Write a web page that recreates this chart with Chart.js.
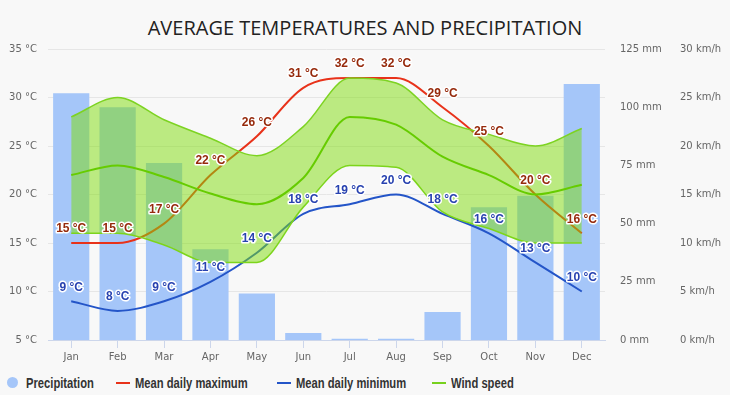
<!DOCTYPE html>
<html>
<head>
<meta charset="utf-8">
<script src="https://cdn.jsdelivr.net/npm/chart.js@4.4.1/dist/chart.umd.min.js"></script>
<style>
    body { margin: 0; background: #f8f8f8; }
    #wrap { position: relative; width: 730px; height: 395px; overflow: hidden; }
    #title {
        position: absolute; top: 14px; left: 0; width: 730px; text-align: center;
        font-family: 'Open Sans', sans-serif; font-size: 20px; color: #222;
    }
    #chartBox { position: absolute; top: 0; left: 0; width: 730px; height: 368px; }
    .lg {
        position: absolute; top: 374px; height: 18px; line-height: 18px;
        font-family: 'Liberation Sans', sans-serif;
        font-weight: bold; font-size: 14px; color: #333; white-space: nowrap;
        transform: scaleX(0.8); transform-origin: left center;
    }
    .sym { position: absolute; }
</style>
</head>
<body>
<div id="wrap">
    <div id="title">AVERAGE TEMPERATURES AND PRECIPITATION</div>
    <div id="chartBox"><canvas id="climateChart"></canvas></div>
    <div class="sym" style="left:7px;top:377px;width:11px;height:11px;border-radius:50%;background:#a5c6f9"></div>
    <div class="lg" style="left:26px">Precipitation</div>
    <div class="sym" style="left:116px;top:382px;width:14px;height:2px;background:#e8321a"></div>
    <div class="lg" style="left:135px">Mean daily maximum</div>
    <div class="sym" style="left:277px;top:382px;width:14px;height:2px;background:#2455c8"></div>
    <div class="lg" style="left:296px">Mean daily minimum</div>
    <div class="sym" style="left:432px;top:382px;width:14px;height:2px;background:#77d11e"></div>
    <div class="lg" style="left:451px">Wind speed</div>
</div>
<script>
const months = ['Jan', 'Feb', 'Mar', 'Apr', 'May', 'Jun', 'Jul', 'Aug', 'Sep', 'Oct', 'Nov', 'Dec'];

// precipitation in mm
const precipitation = [106, 100, 76, 39, 20, 3, 0.5, 0.5, 12, 57, 62, 110];

// temperatures in °C
const tempMax = [15, 15, 17, 22, 26, 31, 32, 32, 29, 25, 20, 16];
const tempMin = [9, 8, 9, 11, 14, 18, 19, 20, 18, 16, 13, 10];

// wind speed in km/h
const windHigh = [23, 25, 22.7, 20.8, 19, 22, 27, 26.5, 22.7, 21.2, 20, 21.8];
const windMean = [17, 18, 16.8, 15.1, 14, 16.7, 23, 22.2, 18.9, 17, 15, 16];
const windLow = [11, 11, 9.8, 8, 8, 13.7, 18, 17.8, 13.2, 11.5, 10, 10];

// axis ticks
const tempTicks = [5, 10, 15, 20, 25, 30, 35];
const mmTicks = [0, 25, 50, 75, 100, 125];
const kmhTicks = [0, 5, 10, 15, 20, 25, 30];

const axisFont = { family: 'DejaVu Sans', size: 10 };

// value labels with white halo on the temperature lines
const tempLabels = {
    id: 'tempLabels',
    afterDatasetsDraw(chart) {
        const ctx = chart.ctx;
        const cfg = [
            { index: 1, color: '#962a0c' },
            { index: 2, color: '#2842b0' }
        ];
        ctx.save();
        ctx.font = 'bold 12px "Liberation Sans", sans-serif';
        ctx.textAlign = 'center';
        ctx.textBaseline = 'middle';
        ctx.lineJoin = 'round';
        cfg.forEach(c => {
            const meta = chart.getDatasetMeta(c.index);
            const values = chart.data.datasets[c.index].data;
            meta.data.forEach((pt, i) => {
                const text = values[i] + ' °C';
                ctx.lineWidth = 3;
                ctx.strokeStyle = '#ffffff';
                ctx.strokeText(text, pt.x, pt.y - 14);
                ctx.fillStyle = c.color;
                ctx.fillText(text, pt.x, pt.y - 14);
            });
        });
        ctx.restore();
    }
};

const lineBase = {
    type: 'line',
    pointRadius: 0,
    pointHoverRadius: 0,
    cubicInterpolationMode: 'monotone',
    fill: false
};

new Chart(document.getElementById('climateChart'), {
    type: 'bar',
    data: {
        labels: months,
        datasets: [
            {
                label: 'Precipitation',
                data: precipitation,
                yAxisID: 'yP',
                backgroundColor: '#a5c6f9',
                barPercentage: 0.78,
                categoryPercentage: 1,
                order: 10
            },
            {
                ...lineBase,
                label: 'Mean daily maximum',
                data: tempMax,
                yAxisID: 'yT',
                borderColor: '#e8321a',
                borderWidth: 2,
                order: 5
            },
            {
                ...lineBase,
                label: 'Mean daily minimum',
                data: tempMin,
                yAxisID: 'yT',
                borderColor: '#2455c8',
                borderWidth: 2,
                order: 5
            },
            {
                ...lineBase,
                label: 'Wind high',
                data: windHigh,
                yAxisID: 'yW',
                borderColor: '#7dd322',
                borderWidth: 1.5,
                backgroundColor: 'rgba(125, 220, 10, 0.5)',
                fill: 5,
                order: 1
            },
            {
                ...lineBase,
                label: 'Wind speed',
                data: windMean,
                yAxisID: 'yW',
                borderColor: '#66cc00',
                borderWidth: 2,
                order: 0
            },
            {
                ...lineBase,
                label: 'Wind low',
                data: windLow,
                yAxisID: 'yW',
                borderColor: '#7dd322',
                borderWidth: 1.5,
                order: 1
            }
        ]
    },
    options: {
        responsive: true,
        maintainAspectRatio: false,
        animation: false,
        layout: { padding: { top: 49, left: 0, right: 0, bottom: 0 } },
        plugins: {
            legend: { display: false },
            tooltip: { enabled: false },
            filler: { propagate: false }
        },
        scales: {
            x: {
                offset: true,
                grid: {
                    offset: false,
                    drawOnChartArea: false,
                    drawTicks: true,
                    tickLength: 8,
                    color: '#ccd6eb'
                },
                border: { color: '#ccd6eb' },
                ticks: { color: '#666', font: axisFont, padding: 3 },
                afterFit: axis => { axis.height = 28; }
            },
            yT: {
                position: 'left',
                min: 5,
                max: 35,
                afterBuildTicks: axis => { axis.ticks = tempTicks.map(v => ({ value: v })); },
                grid: { color: '#e6e6e6', drawTicks: false },
                border: { display: false },
                ticks: { color: '#666', font: axisFont, padding: 11, callback: v => v + ' °C' },
                afterFit: axis => { axis.width = 48; }
            },
            yP: {
                position: 'right',
                min: 0,
                max: 125,
                afterBuildTicks: axis => { axis.ticks = mmTicks.map(v => ({ value: v })); },
                grid: { display: false, drawTicks: false },
                border: { display: false },
                ticks: { color: '#666', font: axisFont, padding: 15, callback: v => v + ' mm' },
                afterFit: axis => { axis.width = 75; }
            },
            yW: {
                position: 'right',
                min: 0,
                max: 30,
                afterBuildTicks: axis => { axis.ticks = kmhTicks.map(v => ({ value: v })); },
                grid: { display: false, drawTicks: false },
                border: { display: false },
                ticks: { color: '#666', font: axisFont, padding: 0, callback: v => v + ' km/h' },
                afterFit: axis => { axis.width = 50; }
            }
        }
    },
    plugins: [tempLabels]
});
</script>
</body>
</html>
